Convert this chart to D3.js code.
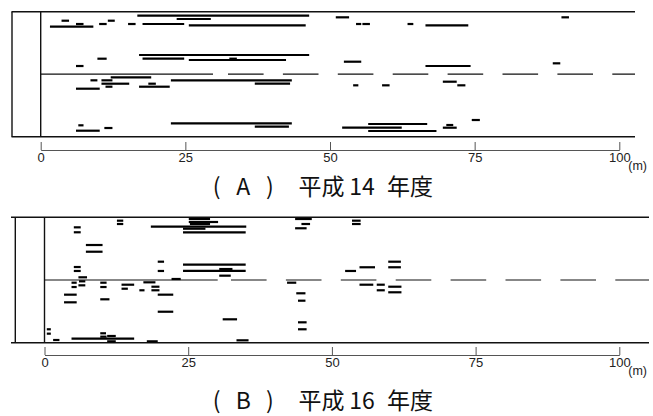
<!DOCTYPE html>
<html>
<head>
<meta charset="utf-8">
<script src="https://cdn.jsdelivr.net/npm/d3@7"></script>
<style>
  body { margin: 0; background: #fff; }
  svg { display: block; }
</style>
</head>
<body>
<svg id="chart" width="653" height="416"></svg>
<script>
// Segments for each survey year: [start (m), end (m), lateral position (0-20)]
var segA = [
    [16.7, 46.4, 19.36], [23.5, 29.4, 18.83], [3.6, 4.9, 18.56], [11.6, 12.8, 18.56],
    [6.1, 7.4, 18.03], [10.1, 11.4, 18.03], [15.1, 16.4, 18.03], [17.6, 24.8, 18.03],
    [25.6, 45.8, 17.82], [1.6, 9.1, 17.6],
    [51.0, 53.3, 19.1], [90.0, 91.3, 19.1], [54.5, 55.4, 18.03], [55.6, 56.9, 18.03],
    [63.4, 64.4, 18.03], [66.5, 73.9, 17.82],
    [17.0, 46.4, 13.07], [9.8, 11.4, 12.48], [17.6, 24.8, 12.48], [25.6, 42.4, 12.27],
    [32.6, 33.9, 12.48], [6.1, 7.4, 11.31], [52.4, 55.4, 12.0], [88.5, 89.8, 11.74],
    [66.5, 74.3, 11.31],
    [12.1, 19.1, 9.5], [8.6, 9.8, 9.02], [10.5, 12.4, 9.02], [22.5, 43.4, 9.02],
    [10.5, 15.3, 8.48], [18.6, 19.9, 8.48], [37.0, 43.1, 8.48], [11.2, 12.4, 8.0],
    [17.0, 22.3, 8.0], [6.1, 10.2, 7.68], [69.5, 71.9, 8.8], [54.0, 54.9, 8.22],
    [59.0, 60.3, 8.22], [72.0, 73.4, 8.22],
    [22.5, 43.4, 2.14], [6.5, 7.4, 1.82], [37.0, 42.9, 1.6], [11.0, 12.4, 1.39],
    [6.1, 10.2, 0.96], [74.5, 75.9, 2.67], [56.6, 66.8, 2.03], [70.1, 71.3, 1.87],
    [52.1, 62.4, 1.44], [69.5, 71.9, 1.44], [56.6, 68.4, 0.91]
];

var segB = [
    [12.6, 13.7, 19.46], [12.6, 13.7, 18.93], [5.1, 6.3, 18.4], [5.1, 6.3, 17.61],
    [25.1, 28.8, 19.73], [25.1, 30.2, 19.25], [25.3, 28.8, 18.93], [18.5, 35.1, 18.5],
    [24.1, 28.0, 18.18], [24.1, 35.0, 17.61],
    [43.6, 46.5, 19.73], [44.7, 46.2, 18.93], [43.6, 45.6, 18.25],
    [53.5, 55.0, 19.46], [53.5, 55.0, 18.93],
    [7.2, 10.1, 15.58], [7.2, 10.1, 14.51], [19.7, 20.8, 12.92], [5.1, 6.3, 12.07],
    [5.1, 6.3, 11.44], [19.7, 20.8, 11.44], [24.1, 35.0, 12.44], [24.1, 35.0, 11.44],
    [30.4, 32.7, 11.75], [30.4, 32.4, 10.69], [5.9, 7.4, 10.43], [22.1, 23.7, 10.16],
    [52.3, 54.2, 11.44], [54.8, 57.5, 12.03], [59.8, 62.0, 12.92], [59.8, 62.0, 12.03],
    [6.0, 7.1, 9.79], [4.7, 5.6, 9.57], [5.9, 7.1, 9.15], [4.7, 5.6, 8.88],
    [9.7, 10.8, 9.57], [9.7, 10.8, 8.88], [13.4, 15.6, 9.25], [13.4, 14.5, 8.61],
    [17.2, 19.3, 9.63], [18.6, 20.0, 8.93], [18.6, 20.0, 8.36], [16.5, 17.4, 8.36],
    [19.7, 22.4, 7.66], [3.4, 5.6, 7.66], [3.4, 5.6, 6.44], [9.7, 11.3, 6.92],
    [19.7, 22.4, 4.94], [31.0, 33.5, 3.73], [42.2, 43.8, 9.57], [43.8, 45.4, 7.88],
    [44.1, 45.4, 6.7], [44.1, 45.6, 3.25], [44.1, 45.6, 2.14],
    [54.8, 57.2, 9.25], [57.8, 59.2, 9.25], [57.8, 59.2, 8.36], [59.8, 62.1, 8.93],
    [59.8, 62.1, 8.04],
    [0.4, 1.1, 2.14], [0.4, 1.1, 1.44], [1.5, 2.6, 0.43], [4.7, 15.6, 0.64],
    [9.7, 10.7, 1.5], [10.9, 12.4, 1.07], [9.7, 10.8, 0.96], [10.9, 12.4, 0.22],
    [17.8, 19.7, 0.22], [33.4, 35.5, 0.38]
];

var tickValues = [0, 25, 50, 75, 100];
var titleA = ["(", "A", ")", "平成", "14", "年度"];
var titleB = ["(", "B", ")", "平成", "16", "年度"];

var svg = d3.select("#chart");

function drawPanel(segs, title, L) {
    var g = svg.append("g");

    var x = d3.scaleLinear().domain([0, 100]).range([L.x0, L.x100]);
    var y = d3.scaleLinear().domain([0, 20]).range([L.bottom, L.top]);

    // frame: top, bottom and the two left verticals
    var frame = g.append("g").attr("stroke", "#111").attr("stroke-width", 1.4);
    [L.top, L.bottom].forEach(function (yy) {
        frame.append("line").attr("x1", L.left).attr("x2", L.right).attr("y1", yy).attr("y2", yy);
    });
    [L.outer, L.x0].forEach(function (xx) {
        frame.append("line").attr("x1", xx).attr("x2", xx).attr("y1", L.top).attr("y2", L.bottom);
    });

    // centre line: solid, then dashed to the right edge
    var ym = y(10);
    g.append("line")
        .attr("x1", L.x0).attr("x2", L.solidEnd).attr("y1", ym).attr("y2", ym)
        .attr("stroke", "#111").attr("stroke-width", 1.2);
    g.append("line")
        .attr("x1", L.dashStart).attr("x2", L.right).attr("y1", ym).attr("y2", ym)
        .attr("stroke", "#111").attr("stroke-width", 1.2)
        .attr("stroke-dasharray", "35.6,19.3");

    // segments
    g.selectAll("line.seg")
        .data(segs)
        .enter()
        .append("line")
        .attr("class", "seg")
        .attr("x1", function (d) { return x(d[0]); })
        .attr("x2", function (d) { return x(d[1]); })
        .attr("y1", function (d) { return y(d[2]); })
        .attr("y2", function (d) { return y(d[2]); })
        .attr("stroke", "#000")
        .attr("stroke-width", 2.2);

    // distance axis below the frame, ticks pointing up
    var axis = g.append("g")
        .attr("transform", "translate(0," + L.axisY + ")")
        .call(d3.axisBottom(x).tickValues(tickValues).tickSizeInner(-8).tickSizeOuter(0).tickPadding(3));
    axis.select(".domain").attr("stroke", "#555");
    axis.selectAll(".tick line").attr("stroke", "#555");
    axis.selectAll(".tick text")
        .attr("fill", "#222")
        .style("font-family", "'Liberation Sans', Arial, sans-serif")
        .style("font-size", "13px");

    g.append("text")
        .attr("x", x(100) + 9)
        .attr("y", L.axisY + 20)
        .attr("fill", "#222")
        .style("font-family", "'Liberation Sans', Arial, sans-serif")
        .style("font-size", "12.5px")
        .text("(m)");

    // title
    var tx = [216.7, 243.3, 270, 321.5, 362, 410];
    g.selectAll("text.title")
        .data(title)
        .enter()
        .append("text")
        .attr("class", "title")
        .attr("x", function (d, i) { return tx[i]; })
        .attr("y", L.titleY)
        .attr("text-anchor", "middle")
        .attr("fill", "#111")
        .style("font-family", "'Noto Sans CJK JP', sans-serif")
        .style("font-size", "23px")
        .text(function (d) { return d; });
}

drawPanel(segA, titleA, {
    x0: 40.7, x100: 619.3, top: 11.7, bottom: 136.7, left: 11.5, right: 635, outer: 12,
    solidEnd: 213, dashStart: 228, axisY: 150, titleY: 195
});

drawPanel(segB, titleB, {
    x0: 44.5, x100: 619.3, top: 217.3, bottom: 342.7, left: 11, right: 649, outer: 15.3,
    solidEnd: 217.7, dashStart: 231, axisY: 355, titleY: 409
});
</script>
</body>
</html>
